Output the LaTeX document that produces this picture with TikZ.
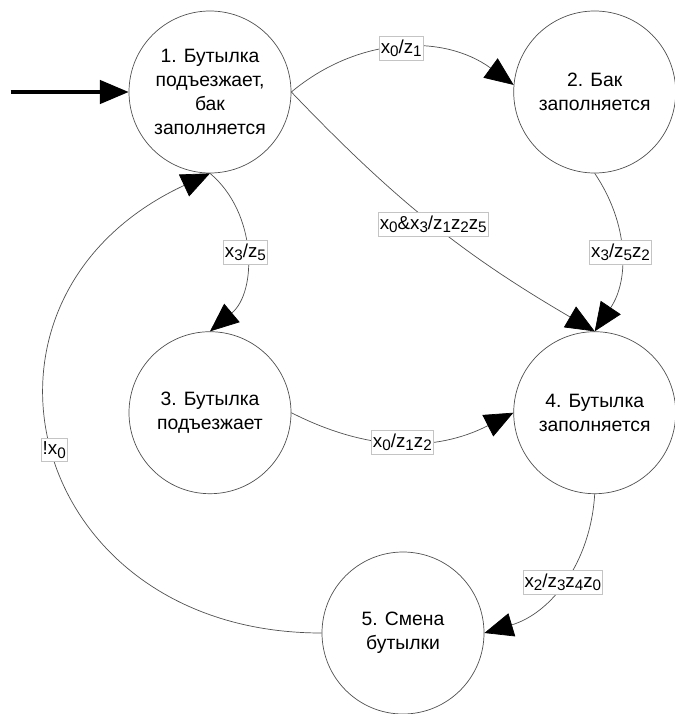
\documentclass[tikz,border=0pt]{standalone}
\usepackage{fontspec}
\setmainfont{Liberation Sans}
\usetikzlibrary{arrows.meta,positioning}
\definecolor{edgegray}{HTML}{505050}
\definecolor{boxgray}{HTML}{C4C4C4}
\newcommand{\subix}[1]{\raisebox{-2.8pt}{\fontsize{13pt}{13pt}\selectfont #1}}

\begin{document}
\begin{tikzpicture}[
  node distance=4.74cm and 6.66cm,
  phase/.style={circle, draw=edgegray, line width=0.6pt, minimum size=4.86cm,
                inner sep=0pt, align=center, font=\fontsize{16.5pt}{20.5pt}\selectfont},
  cond/.style={draw=boxgray, fill=white, line width=0.5pt, inner xsep=1.2pt,
               inner ysep=3pt, font=\fontsize{16pt}{19pt}\selectfont},
  arrow/.style={-{Triangle[length=8.6mm,width=7.2mm,color=black]}, line width=0.6pt, draw=edgegray},
  entry/.style={-{Triangle[length=8.6mm,width=7mm]}, line width=2.8pt, draw=black}
]
\useasboundingbox (0,0) rectangle (20.22,-21.42);

\node[phase] (arrive) at (6.3,-2.76) {1. Бутылка\\подъезжает,\\бак\\заполняется};
\node[phase, right=of arrive] (tankfill) {2. Бак\\заполняется};
\node[phase, below=of arrive] (driveup) {3. Бутылка\\подъезжает};
\node[phase, right=of driveup] (bottlefill) {4. Бутылка\\заполняется};
\node[phase] (swap) at (12.09,-18.99) {5. Смена\\бутылки};
\coordinate[left=3.54cm of arrive] (entry);

\draw[entry] (entry) -- (arrive.west);
\draw[arrow] (arrive.east) to[bend left=38] node[cond] {x\subix{0}/z\subix{1}} (tankfill.175);
\draw[arrow] (arrive.east) to[bend right=8] node[cond] {x\subix{0}\&x\subix{3}/z\subix{1}z\subix{2}z\subix{5}} (bottlefill.north);
\draw[arrow] (tankfill.south) to[bend left=34] node[cond] {x\subix{3}/z\subix{5}z\subix{2}} (bottlefill.north);
\draw[arrow] (arrive.south) to[bend left=50] node[cond] {x\subix{3}/z\subix{5}} (driveup.north);
\draw[arrow] (driveup.east) to[bend right=27] node[cond] {x\subix{0}/z\subix{1}z\subix{2}} (bottlefill.west);
\draw[arrow] (bottlefill.south) to[bend left=35] node[cond] {x\subix{2}/z\subix{3}z\subix{4}z\subix{0}} (swap.east);
\draw[arrow] (swap.west) to[out=180, in=205, looseness=1.6] node[cond] {!x\subix{0}} (arrive.south);
\end{tikzpicture}
\end{document}
